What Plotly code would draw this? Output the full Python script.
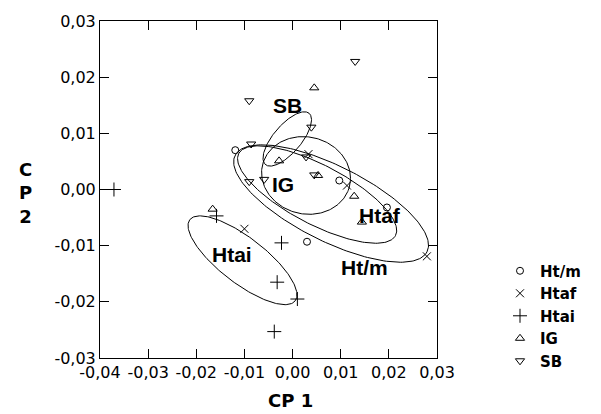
import numpy as np
import plotly.graph_objects as go

# ---- data ----
htm_x = [-0.0119, 0.0097, 0.0196, 0.0030]
htm_y = [0.0070, 0.0016, -0.0032, -0.0093]

htaf_x = [0.0113, 0.0033, -0.0100, 0.0279]
htaf_y = [0.0007, 0.0063, -0.0070, -0.0119]

htai_x = [-0.0371, -0.0158, -0.0023, -0.0032, 0.0010, -0.0038]
htai_y = [0.0000, -0.0047, -0.0095, -0.0165, -0.0195, -0.0253]

ig_x = [0.0045, -0.0028, 0.0053, 0.0128, 0.0144, -0.0166]
ig_y = [0.0181, 0.0051, 0.0025, -0.0012, -0.0058, -0.0035]

sb_x = [0.0130, -0.0090, 0.0039, -0.0086, 0.0028, 0.0045, -0.0090, -0.0059]
sb_y = [0.0228, 0.0158, 0.0111, 0.0081, 0.0058, 0.0026, 0.0014, 0.0018]

series_names = ["Ht/m", "Htaf", "Htai", "IG", "SB"]
series_x = [htm_x, htaf_x, htai_x, ig_x, sb_x]
series_y = [htm_y, htaf_y, htai_y, ig_y, sb_y]
series_symbols = ["circle-open", "x-thin-open", "cross-thin-open",
                  "triangle-up-open", "triangle-down-open"]
series_sizes = [7, 8, 10, 8, 8]

# ellipses: centre and two semi-axis vectors (data units)
ell_names = ["SB", "IG", "Htaf", "Ht/m", "Htai"]
ell_cx = [-0.0011, 0.0028, 0.0051, 0.0080, -0.0104]
ell_cy = [0.0090, 0.0025, -0.0009, -0.0025, -0.0126]
ell_ax = [0.00453, 0.00900, 0.01627, 0.01992, 0.01093]
ell_ay = [0.00457, -0.00204, -0.00732, -0.00860, -0.00724]
ell_bx = [-0.00222, 0.00209, 0.00291, 0.00357, 0.00293]
ell_by = [0.00158, 0.00661, 0.00465, 0.00594, 0.00318]

# group labels inside the plot
lab_text = ["SB", "IG", "Htaf", "Ht/m", "Htai"]
lab_x = [-0.0011, -0.0019, 0.0181, 0.0150, -0.0125]
lab_y = [0.0149, 0.0009, -0.0046, -0.0139, -0.0116]

tick_vals_x = [-0.04, -0.03, -0.02, -0.01, 0.00, 0.01, 0.02, 0.03]
tick_text_x = ["-0,04", "-0,03", "-0,02", "-0,01", "0,00", "0,01", "0,02", "0,03"]
tick_vals_y = [-0.03, -0.02, -0.01, 0.00, 0.01, 0.02, 0.03]
tick_text_y = ["-0,03", "-0,02", "-0,01", "0,00", "0,01", "0,02", "0,03"]

fig = go.Figure()

t = np.linspace(0, 2 * np.pi, 200)
for i in range(len(ell_names)):
    ex = ell_cx[i] + ell_ax[i] * np.cos(t) + ell_bx[i] * np.sin(t)
    ey = ell_cy[i] + ell_ay[i] * np.cos(t) + ell_by[i] * np.sin(t)
    fig.add_trace(go.Scatter(x=ex, y=ey, mode="lines",
                             line=dict(color="black", width=1),
                             showlegend=False, hoverinfo="skip"))

for name, xs, ys, sym, sz in zip(series_names, series_x, series_y,
                                 series_symbols, series_sizes):
    fig.add_trace(go.Scatter(x=xs, y=ys, mode="markers", name="<b>%s</b>" % name,
                             marker=dict(symbol=sym, size=sz, color="black",
                                         line=dict(color="black", width=1))))

for txt, x, y in zip(lab_text, lab_x, lab_y):
    fig.add_annotation(x=x, y=y, text="<b>%s</b>" % txt, showarrow=False,
                       font=dict(family="Liberation Sans", size=21, color="black"))

# axis titles
fig.add_annotation(xref="paper", yref="paper", x=(290 - 100) / 337, y=-(401 - 358) / 342,
                   xanchor="center", yanchor="middle",
                   text="<b>CP 1</b>", showarrow=False,
                   font=dict(family="DejaVu Sans", size=18, color="black"))
fig.add_annotation(xref="paper", yref="paper", x=(25 - 100) / 337, y=(358 - 191) / 342,
                   xanchor="center", yanchor="middle",
                   text="<b>C<br>P<br>2</b>", showarrow=False,
                   font=dict(family="DejaVu Sans", size=18, color="black"))

axis_common = dict(showline=True, linecolor="black", linewidth=1, mirror="ticks",
                   ticks="inside", ticklen=9, tickcolor="black", showgrid=False,
                   zeroline=False, tickfont=dict(family="DejaVu Sans", size=16, color="black"))

fig.update_xaxes(range=[-0.04, 0.03], tickvals=tick_vals_x, ticktext=tick_text_x,
                 **axis_common)
fig.update_yaxes(range=[-0.03, 0.03], tickvals=tick_vals_y, ticktext=tick_text_y,
                 **axis_common)

fig.update_layout(
    width=601, height=414,
    margin=dict(l=100, r=164, t=16, b=56),
    plot_bgcolor="white", paper_bgcolor="white",
    legend=dict(x=(500 - 100) / 337, y=(358 - 253) / 342, xanchor="left", yanchor="top",
                font=dict(family="DejaVu Sans", size=15, color="black"),
                bgcolor="rgba(0,0,0,0)", tracegroupgap=0, itemwidth=30),
)

fig.write_html("out.html")
